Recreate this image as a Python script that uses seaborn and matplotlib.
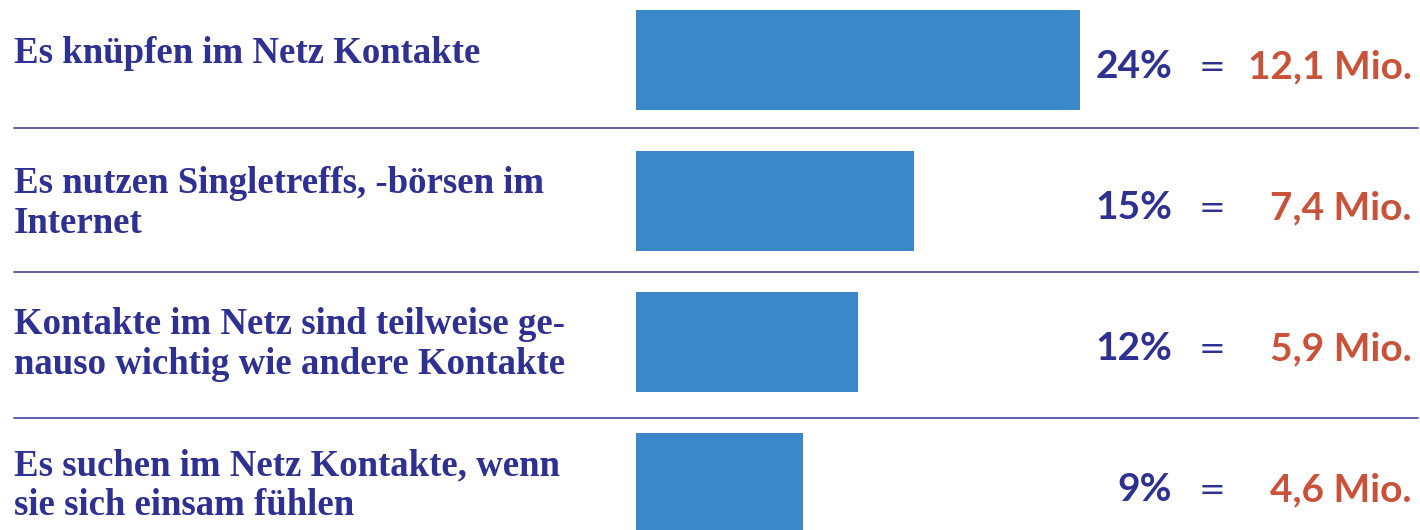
import matplotlib.pyplot as plt
import pandas as pd
import seaborn as sns

labels = [
    "Es knüpfen im Netz Kontakte",
    "Es nutzen Singletreffs, -börsen im\nInternet",
    "Kontakte im Netz sind teilweise ge-\nnauso wichtig wie andere Kontakte",
    "Es suchen im Netz Kontakte, wenn\nsie sich einsam fühlen",
]
percent = [24, 15, 12, 9]
millions = ["12,1", "7,4", "5,9", "4,6"]

NAVY = "#2e3192"
RED = "#c9533a"
BAR = "#3b88c8"
RULE = "#4343a3"


def main():
    sns.set_theme(style="white")

    df = pd.DataFrame({"label": labels, "percent": percent})

    fig = plt.figure(figsize=(14.2, 5.3), dpi=100)
    ax = fig.add_axes([0, 0, 1, 1])

    sns.barplot(data=df, x="percent", y="label", orient="h", color=BAR,
                saturation=1, width=0.71, linewidth=0, ax=ax)

    # 0 % sits at pixel 636, 18.5 px per percent; rows are 141 px apart
    ax.set_xlim(-636 / 18.5, (1420 - 636) / 18.5)
    ax.set_ylim((530 - 60) / 141, -60 / 141)
    ax.axis("off")

    tr = ax.get_yaxis_transform()
    line_step = 40 / 141
    for i, lab in enumerate(labels):
        lines = lab.split("\n")
        first = i + (3 / 141 if len(lines) == 1 else -8 / 141)
        for k, ln in enumerate(lines):
            ax.text(14 / 1420, first + k * line_step, ln, transform=tr,
                    ha="left", va="baseline", fontsize=26.5, fontweight="bold",
                    family="Liberation Serif", color=NAVY)

        y = i + 0.128
        ax.text(1172 / 1420, y, f"{percent[i]}%", transform=tr, ha="right",
                va="baseline", fontsize=28, fontweight="bold", family="Lato", color=NAVY)
        ax.text(1212 / 1420, y - 0.01, "=", transform=tr, ha="center",
                va="baseline", fontsize=23, family="DejaVu Sans", color=NAVY)
        ax.text(1412 / 1420, y, f"{millions[i]} Mio.", transform=tr, ha="right",
                va="baseline", fontsize=28, fontweight="bold", family="Lato", color=RED)

    # separators, slightly off the midpoints as in the original
    for yy in [0.482, 1.504, 2.539]:
        ax.axhline(yy, xmin=14 / 1420, xmax=1418 / 1420, color=RULE, lw=1.2)

    fig.savefig("out.png", dpi=100, facecolor="white")
    plt.close(fig)


if __name__ == "__main__":
    main()
